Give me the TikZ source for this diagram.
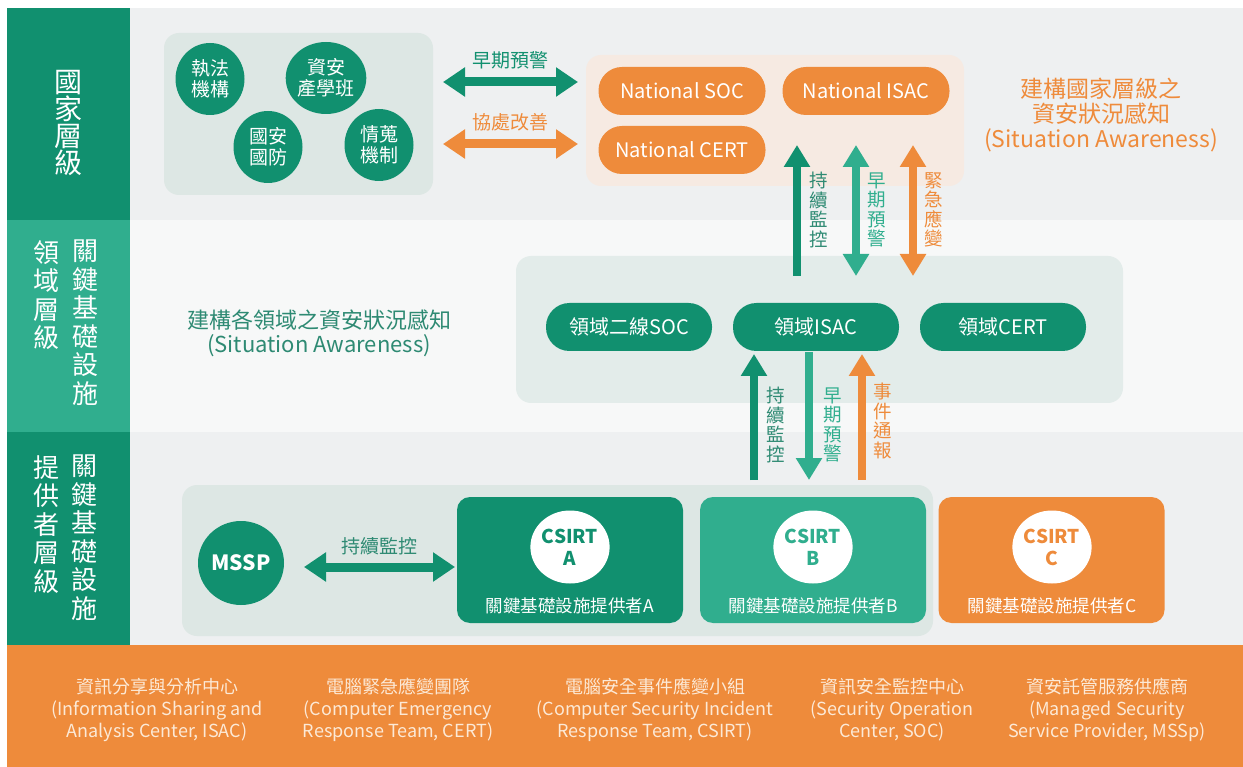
\documentclass[tikz,border=0pt]{standalone}
\usepackage{fontspec}
\setmainfont{Noto Sans CJK TC}
\usetikzlibrary{arrows.meta,shapes.geometric}
\definecolor{dg}{HTML}{11906F}
\definecolor{tg}{HTML}{30AE8E}
\definecolor{og}{HTML}{EE8B3B}
\definecolor{bgA}{HTML}{EEF0F1}
\definecolor{bgB}{HTML}{F7F8F8}
\definecolor{grp}{HTML}{DDE7E4}
\definecolor{grpB}{HTML}{E3ECEA}
\definecolor{peach}{HTML}{F6EAE2}
\definecolor{lblg}{HTML}{2E8A73}
\definecolor{cream}{HTML}{FCE9D6}
\tikzset{
  panel/.style={draw=none, rounded corners=15pt, inner sep=0pt},
  colbox/.style={draw=none, inner sep=0pt, minimum width=123pt, minimum height=212pt},
  coltext/.style={text=white, align=center, inner sep=0pt, font=\fontsize{26}{28.5}\selectfont},
  pill/.style={draw=none, rounded corners=23.5pt, minimum width=167pt, minimum height=48pt, inner sep=0pt, text=white, font=\fontsize{20}{22}\selectfont},
  blob/.style={ellipse, fill=dg, minimum width=69pt, minimum height=72pt, inner sep=0pt, text=white, align=center, font=\fontsize{19}{21}\selectfont},
  provbox/.style={draw=none, rounded corners=13pt, minimum width=226pt, minimum height=126pt, inner sep=0pt},
  csirt/.style={ellipse, fill=white, minimum width=75pt, minimum height=73pt, inner sep=0pt, align=center, font=\bfseries\fontsize{19}{22}\selectfont},
  provlbl/.style={text=white, inner sep=0pt, font=\fontsize{17.5}{20}\selectfont},
  vlbl/.style={align=center, inner sep=0pt, font=\fontsize{18.5}{19.5}\selectfont},
  hlbl/.style={inner sep=0pt, font=\fontsize{19}{21}\selectfont},
  bandtext/.style={text=cream, align=center, inner sep=0pt, font=\fontsize{18}{22}\selectfont},
  harr/.style={line width=9pt, {Triangle[width=28pt,length=22pt]}-{Triangle[width=28pt,length=22pt]}},
  vsingle/.style={line width=8pt, -{Triangle[width=25pt,length=22pt]}},
  vdouble/.style={line width=8pt, {Triangle[width=25pt,length=22pt]}-{Triangle[width=25pt,length=22pt]}},
}
\begin{document}
\begin{tikzpicture}[x=1pt,y=-1pt]
\useasboundingbox (0,0) rectangle (1243,767);
\fill[white] (0,0) rectangle (1243,767);
% row backgrounds
\fill[bgA] (130,8) rectangle (1243,220);
\fill[bgB] (130,220) rectangle (1243,432);
\fill[bgA] (130,432) rectangle (1243,645);
% left column
\node[colbox, fill=dg] (col1) at (68.5,114) {};
\node[colbox, fill=tg] (col2) at (68.5,326) {};
\node[colbox, fill=dg, minimum height=213pt] (col3) at (68.5,538.5) {};
\node[coltext, font=\fontsize{28}{27}\selectfont] (col1t) at (68,123) {國\\家\\層\\級};
\node[coltext, anchor=north] (col2a) at (85,240) {關\\鍵\\基\\礎\\設\\施};
\node[coltext, anchor=north] (col2b) at (47,240) {領\\域\\層\\級};
\node[coltext, anchor=north] (col3a) at (84,455) {關\\鍵\\基\\礎\\設\\施};
\node[coltext, anchor=north] (col3b) at (46,455) {提\\供\\者\\層\\級};
% bottom band
\node[draw=none, fill=og, minimum width=1236pt, minimum height=122pt, inner sep=0pt] (band) at (625,706) {};
\node[bandtext] (b1) at (157,710) {資訊分享與分析中心\\(Information Sharing and\\Analysis Center, ISAC)};
\node[bandtext] (b2) at (398,710) {電腦緊急應變團隊\\(Computer Emergency\\Response Team, CERT)};
\node[bandtext] (b3) at (655,710) {電腦安全事件應變小組\\(Computer Security Incident\\Response Team, CSIRT)};
\node[bandtext] (b4) at (892,710) {資訊安全監控中心\\(Security Operation\\Center, SOC)};
\node[bandtext] (b5) at (1107,710) {資安託管服務供應商\\(Managed Security\\Service Provider, MSSp)};
% panels
\node[panel, fill=grp, minimum width=269pt, minimum height=162pt] (grp1) at (298.5,114) {};
\node[panel, fill=peach, minimum width=378pt, minimum height=131pt] (natbox) at (775,120.5) {};
\node[panel, fill=grpB, minimum width=607pt, minimum height=147pt] (dombox) at (819.5,329.5) {};
\node[panel, fill=grp, minimum width=751pt, minimum height=151pt] (provgrp) at (557.5,560.5) {};
% national level blobs
\node[blob] (law) at (210,79) {執法\\機構};
\node[blob, minimum width=73pt] (acad) at (326,78) {資安\\產學班};
\node[blob] (def) at (268,147) {國安\\國防};
\node[blob] (intel) at (379,145) {情蒐\\機制};
% horizontal arrows
\coordinate (h1l) at (443,82);
\coordinate (h1r) at (578,82);
\coordinate (h2l) at (443,144);
\coordinate (h2r) at (578,144);
\draw[harr, dg] (h1l) -- (h1r);
\draw[harr, og] (h2l) -- (h2r);
\node[hlbl, text=dg] (lblh1) at (510,60) {早期預警};
\node[hlbl, text=og] (lblh2) at (510,122) {協處改善};
% national pills
\node[pill, fill=og] (nsoc) at (682,91) {National SOC};
\node[pill, fill=og] (nisac) at (866,91) {National ISAC};
\node[pill, fill=og] (ncert) at (682,150) {National CERT};
\node[text=og, align=center, inner sep=0pt, font=\fontsize{23}{25}\selectfont] (natsa) at (1101,115) {建構國家層級之\\資安狀況感知\\(Situation Awareness)};
% domain level
\node[pill, fill=dg, minimum width=166pt] (dsoc) at (629,327) {領域二線SOC};
\node[pill, fill=dg, minimum width=166pt] (disac) at (816,327) {領域ISAC};
\node[pill, fill=dg, minimum width=166pt] (dcert) at (1003,327) {領域CERT};
\node[text=lblg, align=center, inner sep=0pt, font=\fontsize{22}{24}\selectfont] (domsa) at (319,333) {建構各領域之資安狀況感知\\(Situation Awareness)};
% upper vertical arrows
\coordinate (ua1t) at (797,145);
\coordinate (ua1b) at (797,276);
\coordinate (ua2t) at (856,145);
\coordinate (ua2b) at (856,276);
\coordinate (ua3t) at (913,145);
\coordinate (ua3b) at (913,276);
\draw[vsingle, dg] (ua1b) -- (ua1t);
\draw[vdouble, tg] (ua2t) -- (ua2b);
\draw[vdouble, og] (ua3t) -- (ua3b);
\node[vlbl, text=lblg] (ul1) at (819,210) {持\\續\\監\\控};
\node[vlbl, text=tg] (ul2) at (877,210) {早\\期\\預\\警};
\node[vlbl, text=og] (ul3) at (934,210) {緊\\急\\應\\變};
% lower vertical arrows
\coordinate (la1t) at (754,354);
\coordinate (la1b) at (754,480);
\coordinate (la2t) at (809,352);
\coordinate (la2b) at (809,480);
\coordinate (la3t) at (862,354);
\coordinate (la3b) at (862,480);
\draw[vsingle, dg] (la1b) -- (la1t);
\draw[vsingle, tg] (la2t) -- (la2b);
\draw[vsingle, og] (la3b) -- (la3t);
\node[vlbl, text=lblg] (ll1) at (776,425) {持\\續\\監\\控};
\node[vlbl, text=tg] (ll2) at (833,425) {早\\期\\預\\警};
\node[vlbl, text=og] (ll3) at (883,421) {事\\件\\通\\報};
% provider level
\node[ellipse, fill=dg, minimum width=86pt, minimum height=84pt, inner sep=0pt, text=white, font=\bfseries\fontsize{21}{23}\selectfont] (mssp) at (241,563) {MSSP};
\coordinate (ma) at (304,567);
\coordinate (mb) at (455,567);
\draw[harr, dg] (ma) -- (mb);
\node[hlbl, text=lblg] (lblm) at (379,546) {持續監控};
\node[provbox, fill=dg] (pa) at (570,560) {};
\node[provbox, fill=tg] (pb) at (813,560) {};
\node[provbox, fill=og] (pc) at (1051.5,560) {};
\node[csirt, text=dg] (ca) at (570,547) {CSIRT\\A};
\node[csirt, text=tg] (cb) at (813,547) {CSIRT\\B};
\node[csirt, text=og] (cc) at (1052,547) {CSIRT\\C};
\node[provlbl] (la) at (570,606) {關鍵基礎設施提供者A};
\node[provlbl] (lb) at (813,606) {關鍵基礎設施提供者B};
\node[provlbl] (lc) at (1052,606) {關鍵基礎設施提供者C};
\end{tikzpicture}
\end{document}
